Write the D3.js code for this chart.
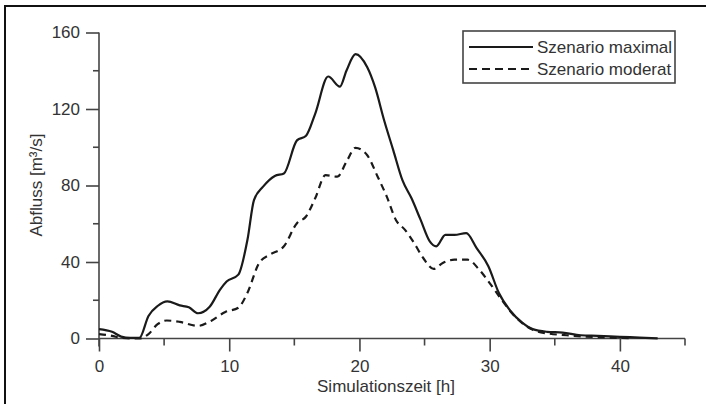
<!DOCTYPE html>
<html>
<head>
<meta charset="utf-8">
<script src="https://cdn.jsdelivr.net/npm/d3@7"></script>
<style>
  body { margin: 0; background: #fff; }
  svg { display: block; font-family: "Liberation Sans", Arial, sans-serif; }
</style>
</head>
<body>
<svg id="chart" width="706" height="404"></svg>
<script>
// Abfluss [m³/s] over Simulationszeit [h]
const timeMax = [0, 1, 1.7, 2.4, 3.1, 3.8, 4.5, 5.25, 6.2, 6.9, 7.6, 8.5, 9.3, 9.8, 10.7, 11.4, 11.9, 12.6, 13.5, 14.2, 15.2, 15.9, 16.6, 17.6, 18.5, 19, 19.7, 20.6, 21.2, 21.9, 22.6, 23.3, 24, 24.7, 25.4, 25.9, 26.6, 27.3, 28.2, 29, 29.9, 30.7, 31.6, 32.5, 33.3, 34.4, 35.6, 37, 38.3, 40, 41.5, 42.9];
const flowMax = [4.9, 3.5, 1, 0.3, 0.3, 11.8, 17, 19.4, 17.3, 16.3, 13.2, 16.6, 25.6, 29.8, 33.4, 51.6, 72.4, 79.4, 85, 86.3, 103.6, 106, 117.5, 137, 131.7, 140, 148.7, 141.8, 131.4, 114, 98.4, 82.8, 73.3, 62, 50.8, 48.2, 54.2, 54.2, 55.1, 47.3, 37.8, 23.9, 14.4, 8.3, 4.9, 3.5, 3.1, 1.7, 1.4, 0.9, 0.5, 0.1];

const timeMod = [0, 1, 1.7, 3.1, 3.8, 4.5, 5.2, 6.2, 7.6, 8.6, 9.7, 10.7, 11.4, 12.3, 13.1, 14.2, 15.2, 15.9, 16.6, 17.4, 18.3, 19, 19.7, 20.6, 21.4, 22.1, 22.8, 23.5, 24.2, 24.9, 25.7, 26.4, 27.3, 28.3, 29.2, 30, 30.9, 31.8, 32.6, 33.5, 34.5, 35.9, 37.3, 39, 40.8];
const flowMod = [2.3, 1.4, 0.3, 0, 2.3, 7.5, 9.4, 8.7, 6.6, 9.2, 13.9, 16.1, 23.9, 39.5, 43.8, 48.2, 60.3, 63.8, 73.3, 85.4, 84.6, 92.4, 99.7, 95.8, 84.6, 74.2, 62, 56.8, 49.9, 42.1, 36.4, 39.5, 41.2, 41.2, 36, 29, 20.4, 12.6, 7.5, 4, 2.6, 1.7, 1, 0.5, 0.2];

const seriesNames = ["Szenario maximal", "Szenario moderat"];
const xTicks = [0, 10, 20, 30, 40];
const xMinorTicks = [5, 15, 25, 35, 45];
const yTicks = [0, 40, 80, 120, 160];
const yMinorTicks = [20, 60, 100, 140];

const svg = d3.select("#chart");
const margin = { left: 99, top: 32.5 };
const innerWidth = 586, innerHeight = 306;

// cropped frame: only top and left edges visible
svg.append("path")
  .attr("d", "M5,404V6H706")
  .attr("fill", "none")
  .attr("stroke", "#111")
  .attr("stroke-width", 2);

const chart = svg.append("g").attr("transform", `translate(${margin.left},${margin.top})`);

const x = d3.scaleLinear().domain([0, 45]).range([0, innerWidth]);
const y = d3.scaleLinear().domain([0, 160]).range([innerHeight, 0]);

const axisColor = "#444";

// x axis
const xAxis = chart.append("g")
  .attr("transform", `translate(0,${innerHeight})`)
  .call(d3.axisBottom(x).tickValues(xTicks).tickSize(13).tickPadding(8));
xAxis.selectAll(".domain").remove();
xAxis.append("line").attr("x1", 0).attr("x2", innerWidth).attr("stroke", axisColor).attr("stroke-width", 1.6);
xAxis.selectAll("line.minor")
  .data(xMinorTicks)
  .enter()
  .append("line")
  .attr("class", "minor")
  .attr("x1", (d) => x(d)).attr("x2", (d) => x(d))
  .attr("y1", 0).attr("y2", 7);
xAxis.selectAll("line").attr("stroke", axisColor).attr("stroke-width", 1.6);
xAxis.selectAll(".tick text").attr("fill", "#333").attr("font-size", 17);

// y axis
const yAxis = chart.append("g")
  .call(d3.axisLeft(y).tickValues(yTicks).tickSize(13).tickPadding(6));
yAxis.selectAll(".domain").remove();
yAxis.append("line").attr("y1", 0).attr("y2", innerHeight + 8);
yAxis.selectAll("line.minor")
  .data(yMinorTicks)
  .enter()
  .append("line")
  .attr("class", "minor")
  .attr("y1", (d) => y(d)).attr("y2", (d) => y(d))
  .attr("x1", -6).attr("x2", 0);
yAxis.selectAll("line").attr("stroke", axisColor).attr("stroke-width", 1.6);
yAxis.selectAll(".tick text").attr("fill", "#333").attr("font-size", 17);

// lines
const line = d3.line()
  .x((d) => x(d[0]))
  .y((d) => y(d[1]))
  .curve(d3.curveMonotoneX);

chart.append("path")
  .datum(d3.zip(timeMod, flowMod))
  .attr("d", line)
  .attr("fill", "none")
  .attr("stroke", "#1a1a1a")
  .attr("stroke-width", 2.2)
  .attr("stroke-dasharray", "7,5");

chart.append("path")
  .datum(d3.zip(timeMax, flowMax))
  .attr("d", line)
  .attr("fill", "none")
  .attr("stroke", "#1a1a1a")
  .attr("stroke-width", 2.2);

// axis titles
svg.append("text")
  .attr("x", 386)
  .attr("y", 392)
  .attr("text-anchor", "middle")
  .attr("fill", "#333")
  .attr("font-size", 17)
  .text("Simulationszeit [h]");

svg.append("text")
  .attr("transform", "translate(42,185) rotate(-90)")
  .attr("text-anchor", "middle")
  .attr("fill", "#333")
  .attr("font-size", 17)
  .text("Abfluss [m³/s]");

// legend
const legend = svg.append("g").attr("transform", "translate(463,31)");
legend.append("rect")
  .attr("width", 212)
  .attr("height", 52)
  .attr("fill", "#fff")
  .attr("stroke", "#444")
  .attr("stroke-width", 1.6);

seriesNames.forEach((name, i) => {
  const cy = 16 + i * 22;
  legend.append("line")
    .attr("x1", 6).attr("x2", 70)
    .attr("y1", cy).attr("y2", cy)
    .attr("stroke", "#1a1a1a")
    .attr("stroke-width", 2.2)
    .attr("stroke-dasharray", i === 1 ? "8,5" : null);
  legend.append("text")
    .attr("x", 74)
    .attr("y", cy + 6)
    .attr("fill", "#333")
    .attr("font-size", 17)
    .text(name);
});
</script>
</body>
</html>
